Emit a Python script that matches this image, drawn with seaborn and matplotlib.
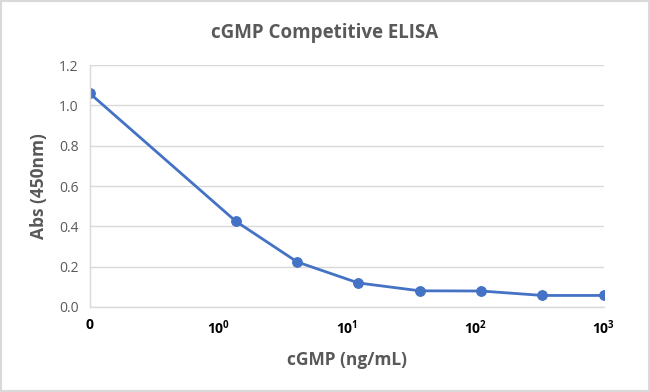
import numpy as np
import pandas as pd
import matplotlib
matplotlib.use('Agg')
import matplotlib.pyplot as plt
import seaborn as sns

# cGMP standard curve, 3-fold dilutions from 1000 ng/mL plus blank
conc = [0, 1.37, 4.12, 12.3, 37.0, 111, 333, 1000]
absorb = [1.06, 0.425, 0.223, 0.119, 0.080, 0.079, 0.057, 0.057]
xtick_vals = [0, 1, 10, 100, 1000]
xtick_labels = ['0', '$\\mathbf{10^0}$', '$\\mathbf{10^1}$', '$\\mathbf{10^2}$', '$\\mathbf{10^3}$']
ytick_vals = [0.0, 0.2, 0.4, 0.6, 0.8, 1.0, 1.2]

# the blank sits one decade below 10^0 on the log axis
zero_pos = 0.1
data = pd.DataFrame({'conc': conc, 'abs': absorb})
data['xpos'] = data['conc'].replace(0, zero_pos)

sns.set_style('white')
plt.rcParams['font.family'] = ['Open Sans', 'DejaVu Sans']
plt.rcParams['mathtext.fontset'] = 'custom'
plt.rcParams['mathtext.rm'] = 'Open Sans'
plt.rcParams['mathtext.bf'] = 'Open Sans:bold'

fig = plt.figure(figsize=(6.5, 3.92), dpi=100)
ax = fig.add_axes([0.138, 0.217, 0.791, 0.617])

sns.lineplot(data=data, x='xpos', y='abs', ax=ax, color='#4472C4', linewidth=2,
             marker='o', markersize=7, markeredgecolor='#4472C4')

ax.set_xscale('log')
ax.set_xlim(zero_pos, 1000)
ax.set_ylim(0, 1.2)
ax.set_xticks([zero_pos if v == 0 else v for v in xtick_vals])
ax.set_xticklabels(xtick_labels, fontsize=10, fontweight='bold', color='black')
ax.minorticks_off()
ax.set_yticks(ytick_vals)
ax.set_yticklabels([f'{v:.1f}' for v in ytick_vals], fontsize=10, color='#595959')
ax.tick_params(axis='both', length=0, pad=8)
ax.yaxis.grid(True, color='#D9D9D9', linewidth=1)
ax.set_axisbelow(True)

for side in ['top', 'right']:
    ax.spines[side].set_visible(False)
for side in ['left', 'bottom']:
    ax.spines[side].set_color('#D9D9D9')
    ax.spines[side].set_linewidth(1)

ax.set_xlabel('cGMP (ng/mL)', fontsize=12.5, fontweight='bold', color='#595959', labelpad=10)
ax.set_ylabel('Abs (450nm)', fontsize=12.5, fontweight='bold', color='#595959', labelpad=8)
fig.text(0.5, 0.915, 'cGMP Competitive ELISA', ha='center', va='center',
         fontsize=13.5, fontweight='bold', color='#595959')

# light frame around the chart area
fig.patches.append(plt.Rectangle((0.002, 0.003), 0.996, 0.994, transform=fig.transFigure,
                                 fill=False, edgecolor='#D9D9D9', linewidth=1.5))

fig.savefig('out.png', dpi=100)
